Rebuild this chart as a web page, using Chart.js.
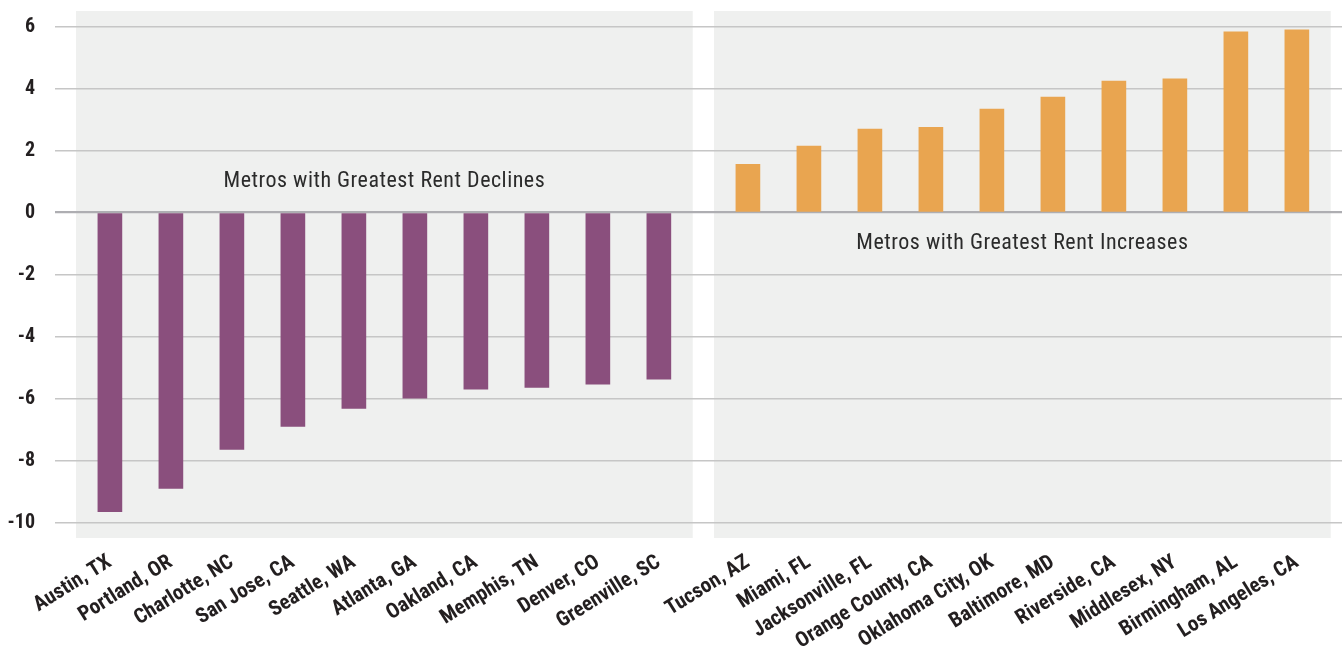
<!DOCTYPE html>
<html>
<head>
<meta charset="utf-8">
<script src="https://cdn.jsdelivr.net/npm/chart.js@4/dist/chart.umd.min.js"></script>
<style>
  html, body { margin: 0; padding: 0; background: #ffffff; }
  #wrap { width: 1342px; height: 652px; }
</style>
</head>
<body>
<div id="wrap"><canvas id="rent" width="1342" height="652"></canvas></div>
<script>
// Year-over-year rent change (%) by metro
const declineMetros = ['Austin, TX', 'Portland, OR', 'Charlotte, NC', 'San Jose, CA', 'Seattle, WA',
  'Atlanta, GA', 'Oakland, CA', 'Memphis, TN', 'Denver, CO', 'Greenville, SC'];
const declineValues = [-9.65, -8.9, -7.64, -6.9, -6.32, -5.99, -5.7, -5.64, -5.54, -5.38];

const increaseMetros = ['Tucson, AZ', 'Miami, FL', 'Jacksonville, FL', 'Orange County, CA', 'Oklahoma City, OK',
  'Baltimore, MD', 'Riverside, CA', 'Middlesex, NY', 'Birmingham, AL', 'Los Angeles, CA'];
const increaseValues = [1.55, 2.14, 2.69, 2.75, 3.34, 3.72, 4.24, 4.31, 5.83, 5.89];

const yTickValues = [-10, -8, -6, -4, -2, 0, 2, 4, 6];
const groupTitles = ['Metros with Greatest Rent Declines', 'Metros with Greatest Rent Increases'];
const groupTitleLevels = [1, -1];

// Layout: each metro gets one slot; the second group is pushed right by an extra gap
const GROUP_GAP = 0.46;
const PANEL_PAD = 0.555;
const declineSlots = declineMetros.map((_, i) => i);
const increaseSlots = increaseMetros.map((_, i) => declineMetros.length + GROUP_GAP + i);
const allSlots = declineSlots.concat(increaseSlots);
const allMetros = declineMetros.concat(increaseMetros);

const groups = [declineSlots, increaseSlots];

const labelFont = "'Roboto Condensed', 'Liberation Sans', sans-serif";

// Shaded panel behind each group, plus the group captions
const panelPlugin = {
  id: 'panels',
  beforeDraw(chart) {
    const { ctx, chartArea, scales: { x } } = chart;
    ctx.save();
    ctx.fillStyle = '#eff0ef';
    groups.forEach(slots => {
      const l = x.getPixelForValue(slots[0] - PANEL_PAD);
      const r = x.getPixelForValue(slots[slots.length - 1] + PANEL_PAD);
      ctx.fillRect(l, chartArea.top, r - l, chartArea.bottom - chartArea.top);
    });
    ctx.restore();
  },
  afterDatasetsDraw(chart) {
    const { ctx, scales: { x, y } } = chart;
    ctx.save();
    ctx.fillStyle = '#2b2b2b';
    ctx.font = "22px " + labelFont;
    if ('letterSpacing' in ctx) ctx.letterSpacing = '0.5px';
    ctx.textAlign = 'center';
    ctx.textBaseline = 'middle';
    groups.forEach((slots, g) => {
      const cx = x.getPixelForValue((slots[0] + slots[slots.length - 1]) / 2);
      ctx.fillText(groupTitles[g], cx, y.getPixelForValue(groupTitleLevels[g]));
    });
    ctx.restore();
  }
};

const noPadding = s => { s.paddingLeft = 0; s.paddingRight = 0; s.paddingTop = 0; s.paddingBottom = 0; };

new Chart(document.getElementById('rent'), {
  type: 'bar',
  data: {
    datasets: [
      {
        label: 'Declines',
        data: declineSlots.map((s, i) => ({ x: s, y: declineValues[i] })),
        backgroundColor: '#8a4f7d'
      },
      {
        label: 'Increases',
        data: increaseSlots.map((s, i) => ({ x: s, y: increaseValues[i] })),
        backgroundColor: '#e9a550'
      }
    ]
  },
  options: {
    responsive: false,
    animation: false,
    layout: { padding: { top: 11, right: 0, left: 0, bottom: 0 } },
    datasets: { bar: { grouped: false, barThickness: 24 } },
    plugins: { legend: { display: false }, tooltip: { enabled: false } },
    scales: {
      x: {
        type: 'linear',
        offset: false,
        min: -0.9,
        max: 20.2,
        grid: { display: false, offset: false },
        border: { display: false },
        afterBuildTicks: s => { s.ticks = allSlots.map(v => ({ value: v })); },
        afterFit: s => { s.height = 114; noPadding(s); },
        ticks: {
          autoSkip: false,
          minRotation: 32,
          maxRotation: 32,
          padding: 4,
          color: '#231f20',
          font: { family: labelFont, size: 21, weight: 'bold' },
          callback: (v, i) => allMetros[i]
        }
      },
      y: {
        min: -10.5,
        max: 6.5,
        border: { display: false },
        afterBuildTicks: s => { s.ticks = yTickValues.map(v => ({ value: v })); },
        afterFit: s => { s.width = 55; noPadding(s); },
        grid: {
          drawTicks: false,
          color: c => (c.tick && c.tick.value === 0) ? '#aeaeb2' : '#c6c6c6',
          lineWidth: c => (c.tick && c.tick.value === 0) ? 2.2 : 1.5
        },
        ticks: {
          padding: 20,
          color: '#231f20',
          font: { family: labelFont, size: 20, weight: 'bold' }
        }
      }
    }
  },
  plugins: [panelPlugin]
});
</script>
</body>
</html>
